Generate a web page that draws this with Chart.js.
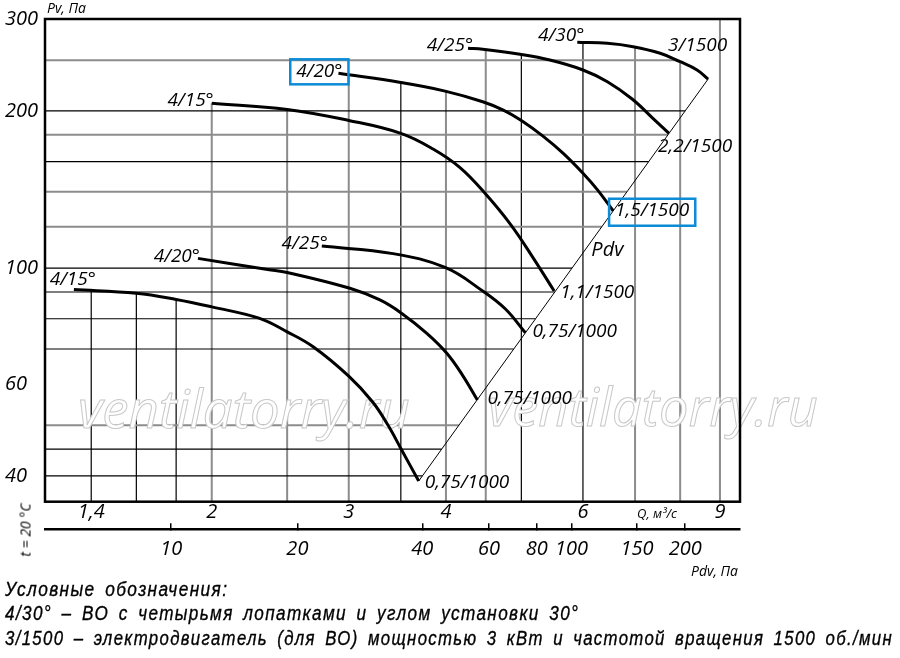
<!DOCTYPE html>
<html lang="ru">
<head>
  <meta charset="UTF-8" />
  <title>Характеристики вентилятора</title>
  <script src="https://cdn.jsdelivr.net/npm/chart.js"></script>
  <style>
    html, body { margin: 0; padding: 0; background: #fff; }
    #wrap { position: relative; width: 900px; height: 658px; overflow: hidden; }
    #fanChart { position: absolute; left: 0; top: 0; }
    .note { position: absolute; left: 5px; font: italic 20px/20px 'Liberation Sans', Arial, sans-serif; letter-spacing: 1.6px; word-spacing: 4px; white-space: nowrap; color: #000; -webkit-text-stroke: 0.35px #000; transform-origin: 0 50%; }
    #temp { position: absolute; left: 25px; top: 530px; font: italic 14px 'Open Sans', sans-serif; white-space: nowrap; transform: translate(-50%, -50%) rotate(-90deg); }
  </style>
</head>
<body>
<div id="wrap">
  <canvas id="fanChart" width="900" height="658"></canvas>
  <div id="temp">t = 20 °C</div>
  <div class="note" style="top:579px" data-w="223">Условные обозначения:</div>
  <div class="note" style="top:603px" data-w="574">4/30° – ВО с четырьмя лопатками и углом установки 30°</div>
  <div class="note" style="top:628px" data-w="888">3/1500 – электродвигатель (для ВО) мощностью 3 кВт и частотой вращения 1500 об./мин</div>
</div>

<script>
  // кривые Pv(Q): Q, м³/с и Pv, Па
  const q1 = [1.33, 1.6, 1.8, 2.0, 2.3, 2.5, 2.7, 3.0, 3.22, 3.37, 3.51, 3.69];
  const pv1 = [91.0, 89.5, 87.1, 84.3, 80.2, 75.5, 70.7, 62.1, 55.4, 50.0, 44.8, 39.1];
  const q2 = [1.92, 2.36, 2.5, 3.01, 3.29, 3.51, 3.78, 4.01, 4.2, 4.39];
  const pv2 = [104.4, 99.4, 98.1, 91.5, 86.9, 81.9, 75.0, 68.7, 62.4, 55.9];
  const q3 = [2.77, 3.42, 3.99, 4.46, 4.77, 5.06];
  const pv3 = [110.2, 106.6, 100.3, 90.4, 83.5, 75.2];
  const q4 = [2.0, 2.5, 3.0, 3.5, 3.85, 4.17, 4.49, 4.85, 5.18, 5.51];
  const pv4 = [206.9, 201.3, 191.8, 181.2, 169.1, 155.8, 139.1, 120.9, 104.5, 90.4];
  const q5 = [2.91, 3.5, 3.99, 4.46, 4.74, 5.0, 5.33, 5.66, 6.0, 6.26, 6.56];
  const pv5 = [236.1, 226.7, 218.3, 208.3, 200.8, 191.8, 179.0, 165.9, 152.0, 141.4, 128.8];
  const q6 = [4.27, 4.46, 4.98, 5.44, 6.0, 6.45, 6.94, 7.38, 7.74];
  const pv6 = [263.7, 262.5, 256.7, 250.3, 239.6, 227.5, 210.8, 193.6, 181.2];
  const q7 = [5.9, 6.45, 6.96, 7.54, 8.0, 8.41, 8.69];
  const pv7 = [270.7, 269.5, 265.5, 257.9, 248.5, 239.6, 230.2];

  // линия динамического давления Pdv
  const pdvLineQ = [3.69, 8.69];
  const pdvLinePv = [39.1, 230.2];
  const pdvNote = [6.45, 108];

  const bladeLabels = ['4/15°', '4/20°', '4/25°', '4/15°', '4/20°', '4/25°', '4/30°'];
  const motorLabels = ['0,75/1000', '0,75/1000', '0,75/1000', '1,1/1500', '1,5/1500', '2,2/1500', '3/1500'];

  const qTicks = [1.4, 2, 3, 4, 6, 9];
  const qTickLabels = ['1,4', '2', '3', '4', '6', '9'];
  const pvTicks = [40, 60, 100, 200, 300];
  const pdvTicks = ['10', '20', '40', '60', '80', '100', '150', '200'];
  const pdvTickQ = [1.774, 2.577, 3.73, 4.545, 5.235, 5.80, 7.04, 8.12];

  const qGrid = [1.4, 1.6, 1.8, 2, 2.5, 3, 3.5, 4, 4.5, 5, 6, 7, 8, 9];
  const pvGrid = [40, 45, 50, 70, 80, 90, 100, 120, 140, 160, 180, 200, 250];
  const qGridDark = [1.4, 1.6, 1.8, 3.5, 5, 6];
  const pvGridDark = [40, 45, 70, 80, 90, 100, 160, 200];

  const qMin = 1.221, qMax = 9.55, pvMin = 35.7, pvMax = 300;

  const curves = [[q1, pv1], [q2, pv2], [q3, pv3], [q4, pv4], [q5, pv5], [q6, pv6], [q7, pv7]];
  const FONT = "'Open Sans', sans-serif";

  // сдвиги подписей от концов кривых, px
  const startShift = [[22, -10], [2, -2], [6, -3], [2, -3], [4, -2], [5, -3], [7, -7]];
  const endShift = [[6, 2], [10, -1], [7, -1], [6, 2], [2, 0], [-11, 13], [-40, -33]];
  const boxed = 4;

  // поджать подписи внизу до ширины оригинала
  document.querySelectorAll('.note').forEach(el => {
    el.style.transform = `scaleX(${el.dataset.w / el.scrollWidth})`;
  });

  function toPx(chart, qs, vs) {
    const { x, y } = chart.scales;
    return qs.map((q, i) => ({ x: x.getPixelForValue(q), y: y.getPixelForValue(vs[i]) }));
  }

  function yAt(pts, gx) {
    if (gx < pts[0].x - 0.5 || gx > pts[pts.length - 1].x + 0.5) return null;
    for (let i = 1; i < pts.length; i++) {
      const a = pts[i - 1], b = pts[i];
      if (gx <= b.x + 0.5) {
        const t = Math.min(1, Math.max(0, (gx - a.x) / (b.x - a.x)));
        return a.y + t * (b.y - a.y);
      }
    }
    return null;
  }

  function xsAt(pts, gy) {
    const out = [];
    for (let i = 1; i < pts.length; i++) {
      const a = pts[i - 1], b = pts[i];
      if ((a.y - gy) * (b.y - gy) <= 0 && a.y !== b.y) {
        out.push(a.x + (gy - a.y) / (b.y - a.y) * (b.x - a.x));
      }
    }
    return out;
  }

  function watermark(ctx, cx, base, w) {
    const text = 'ventilatorry.ru';
    ctx.font = `italic 48px ${FONT}`;
    const size = 48 * w / ctx.measureText(text).width;
    ctx.font = `italic ${size}px ${FONT}`;
    ctx.textAlign = 'center';
    ctx.textBaseline = 'alphabetic';
    ctx.fillStyle = '#fff';
    ctx.fillText(text, cx, base);
    ctx.strokeStyle = '#c8c8c8';
    ctx.lineWidth = 1;
    ctx.strokeText(text, cx, base);
  }

  // сетка обрезана кривыми сверху и линией Pdv справа
  const gridPlugin = {
    id: 'cutGrid',
    beforeDatasetsDraw(chart) {
      const { ctx, chartArea: a, scales: { x, y } } = chart;
      const lines = curves.map(([qs, vs]) => toPx(chart, qs, vs));
      const pdv = toPx(chart, pdvLineQ, pdvLinePv);
      ctx.save();
      const style = dark => {
        ctx.strokeStyle = dark ? '#000' : '#8c8c8c';
        ctx.lineWidth = dark ? 1.2 : 2;
      };
      qGrid.forEach(q => {
        const gx = x.getPixelForValue(q);
        const hits = lines.map(p => yAt(p, gx)).filter(v => v !== null);
        const top = hits.length ? Math.min(...hits) : a.top;
        style(qGridDark.includes(q));
        ctx.beginPath();
        ctx.moveTo(gx, top);
        ctx.lineTo(gx, a.bottom);
        ctx.stroke();
      });
      pvGrid.forEach(v => {
        const gy = y.getPixelForValue(v);
        const hits = lines.concat([pdv]).flatMap(p => xsAt(p, gy));
        const right = hits.length ? Math.max(...hits) : a.right;
        style(pvGridDark.includes(v));
        ctx.beginPath();
        ctx.moveTo(a.left, gy);
        ctx.lineTo(right, gy);
        ctx.stroke();
      });
      watermark(ctx, 244, 428, 332);
      watermark(ctx, 653, 426, 330);
      ctx.restore();
    }
  };

  const notesPlugin = {
    id: 'notes',
    afterDatasetsDraw(chart) {
      const { ctx, chartArea: a, scales: { x, y } } = chart;
      ctx.save();
      ctx.fillStyle = '#000';
      ctx.font = `italic 19px ${FONT}`;
      ctx.textBaseline = 'middle';
      curves.forEach(([qs, vs], i) => {
        const pts = toPx(chart, qs, vs);
        const s = pts[0], e = pts[pts.length - 1];
        const sx = s.x + startShift[i][0], sy = s.y + startShift[i][1];
        const ex = e.x + endShift[i][0], ey = e.y + endShift[i][1];
        ctx.textAlign = 'right';
        ctx.fillText(bladeLabels[i], sx, sy);
        ctx.textAlign = 'left';
        ctx.fillText(motorLabels[i], ex, ey);
        if (i === boxed) {
          ctx.strokeStyle = '#0c8bd6';
          ctx.lineWidth = 2.5;
          const w1 = ctx.measureText(bladeLabels[i]).width;
          ctx.strokeRect(sx - w1 - 6, sy - 12, w1 + 12, 25);
          const w2 = ctx.measureText(motorLabels[i]).width;
          ctx.strokeRect(ex - 6, ey - 12, w2 + 12, 27);
        }
      });

      ctx.font = `italic 20px ${FONT}`;
      ctx.textAlign = 'center';
      ctx.fillText('Pdv', x.getPixelForValue(pdvNote[0]), y.getPixelForValue(pdvNote[1]));

      ctx.font = `italic 14px ${FONT}`;
      ctx.textAlign = 'left';
      ctx.fillText('Pv, Па', a.left + 2, 9);
      ctx.font = `italic 13px ${FONT}`;
      ctx.textAlign = 'center';
      ctx.fillText('Q, м³/с', x.getPixelForValue(7.47), 514);
      ctx.font = `italic 14px ${FONT}`;
      ctx.textAlign = 'right';
      ctx.fillText('Pdv, Па', a.right - 2, 572);

      ctx.strokeStyle = '#000';
      ctx.lineWidth = 2.5;
      ctx.strokeRect(a.left, a.top, a.right - a.left, a.bottom - a.top);
      ctx.restore();
    }
  };

  const tickFont = { family: FONT, style: 'italic', size: 20 };

  const datasets = curves.map(([qs, vs]) => ({
    data: qs.map((q, i) => ({ x: q, y: vs[i] })),
    borderColor: '#000',
    borderWidth: 3,
    pointRadius: 0,
    tension: 0.4,
    fill: false
  }));
  datasets.push({
    data: pdvLineQ.map((q, i) => ({ x: q, y: pdvLinePv[i] })),
    borderColor: '#000',
    borderWidth: 1,
    pointRadius: 0,
    tension: 0,
    fill: false
  });

  new Chart(document.getElementById('fanChart'), {
    type: 'line',
    data: { datasets },
    plugins: [gridPlugin, notesPlugin],
    options: {
      responsive: false,
      animation: false,
      layout: { padding: { left: 5, right: 160, top: 19, bottom: 88.8 } },
      plugins: { legend: { display: false }, tooltip: { enabled: false } },
      scales: {
        x: {
          type: 'logarithmic', position: 'bottom', min: qMin, max: qMax,
          afterBuildTicks: s => { s.ticks = qTicks.map(v => ({ value: v })); },
          afterFit: s => { s.height = 27.5; s.paddingLeft = 0; s.paddingRight = 0; },
          grid: { display: false, drawTicks: false },
          border: { display: false },
          ticks: { callback: (v, i) => qTickLabels[i], font: tickFont, color: '#000', padding: -1, autoSkip: false, maxRotation: 0, minRotation: 0 }
        },
        xp: {
          type: 'logarithmic', position: 'bottom', min: qMin, max: qMax,
          afterBuildTicks: s => { s.ticks = pdvTickQ.map(v => ({ value: v })); },
          afterFit: s => { s.height = 40; s.paddingLeft = 0; s.paddingRight = 0; },
          grid: { drawOnChartArea: false, drawTicks: true, tickLength: -6, color: '#000', lineWidth: 1.5 },
          border: { display: true, color: '#000', width: 2.5 },
          ticks: { callback: (v, i) => pdvTicks[i], font: tickFont, color: '#000', padding: 14, autoSkip: false, maxRotation: 0, minRotation: 0 }
        },
        y: {
          type: 'logarithmic', position: 'left', min: pvMin, max: pvMax,
          afterBuildTicks: s => { s.ticks = pvTicks.map(v => ({ value: v })); },
          afterFit: s => { s.width = 40; s.paddingTop = 0; s.paddingBottom = 0; },
          grid: { display: false, drawTicks: false },
          border: { display: false },
          ticks: { callback: v => String(v), font: tickFont, color: '#000', crossAlign: 'far', padding: 0, autoSkip: false }
        }
      }
    }
  });
</script>
</body>
</html>
